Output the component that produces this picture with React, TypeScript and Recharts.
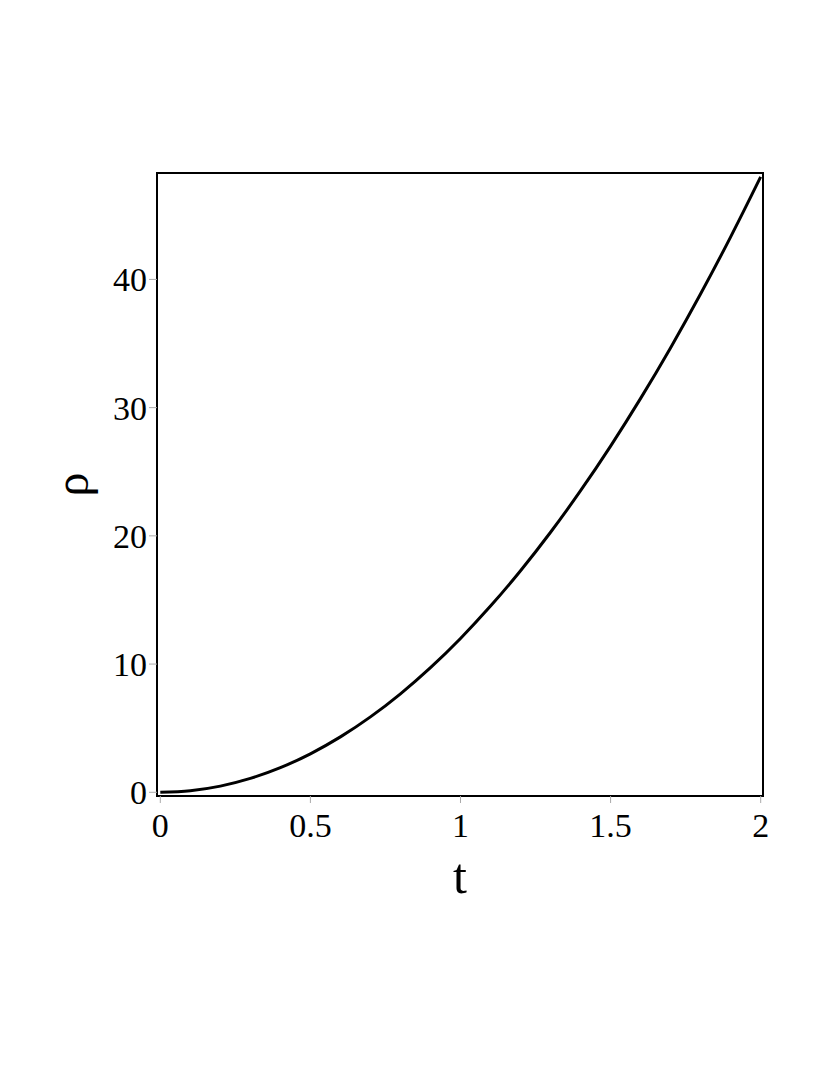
import React from "react"
import {
 LineChart,
 Line,
 XAxis,
 YAxis,
 ReferenceArea,
 Label
} from "recharts"

// t values and rho
const tValues = [0, 0.1, 0.2, 0.3, 0.4, 0.5, 0.6, 0.7, 0.8, 0.9, 1, 1.1, 1.2, 1.3, 1.4, 1.5, 1.6, 1.7, 1.8, 1.9, 2]
const rhoValues = [0, 0.12, 0.48, 1.08, 1.92, 3, 4.32, 5.88, 7.68, 9.72, 12, 14.52, 17.28, 20.28, 23.52, 27, 30.72, 34.68, 38.88, 43.32, 48]

const xTicks = [0, 0.5, 1, 1.5, 2]
const yTicks = [0, 10, 20, 30, 40]
const xDomain = [-0.011, 2.0077]
const yDomain = [-0.29, 48.3]

const font = "'Liberation Serif', 'Times New Roman', serif"

const data = tValues.map((t, i) => ({ t, rho: rhoValues[i] }))

export default function App(){

 return(

  <div style={{position:"absolute", left:0, top:0, width:830, height:1075, background:"#fff"}}>

   <LineChart
    width={830}
    height={1075}
    data={data}
    margin={{top:173, right:67, bottom:0, left:0}}
   >

    <XAxis
     dataKey="t"
     type="number"
     domain={xDomain}
     ticks={xTicks}
     allowDataOverflow
     height={279}
     tickSize={7}
     tickMargin={10}
     tickLine={{stroke:"#aaa"}}
     axisLine={{stroke:"#000", strokeWidth:2}}
     tick={{fill:"#000", fontSize:34, fontFamily:font}}
    >
     <Label
      content={({viewBox}:any)=>(
       <text x={viewBox.x + viewBox.width/2} y={viewBox.y + 97} textAnchor="middle" fontSize={50} fontFamily={font} fill="#000">t</text>
      )}
     />
    </XAxis>

    <YAxis
     type="number"
     domain={yDomain}
     ticks={yTicks}
     allowDataOverflow
     width={157}
     tickSize={8}
     tickMargin={2}
     tickLine={{stroke:"#aaa"}}
     axisLine={{stroke:"#000", strokeWidth:2}}
     tick={{fill:"#000", fontSize:34, fontFamily:font}}
    >
     <Label
      content={({viewBox}:any)=>{
       const cx = viewBox.x + 88
       const cy = viewBox.y + viewBox.height/2
       return <text x={cx} y={cy} textAnchor="middle" fontSize={48} fontFamily={font} fill="#000" transform={`rotate(-90, ${cx}, ${cy})`}>ρ</text>
      }}
     />
    </YAxis>

    <ReferenceArea
     x1={xDomain[0]}
     x2={xDomain[1]}
     y1={yDomain[0]}
     y2={yDomain[1]}
     fill="none"
     stroke="#000"
     strokeWidth={2}
     ifOverflow="visible"
    />

    <Line type="monotone" dataKey="rho" stroke="#000" strokeWidth={3} dot={false} isAnimationActive={false}/>

   </LineChart>

  </div>

 )

}
